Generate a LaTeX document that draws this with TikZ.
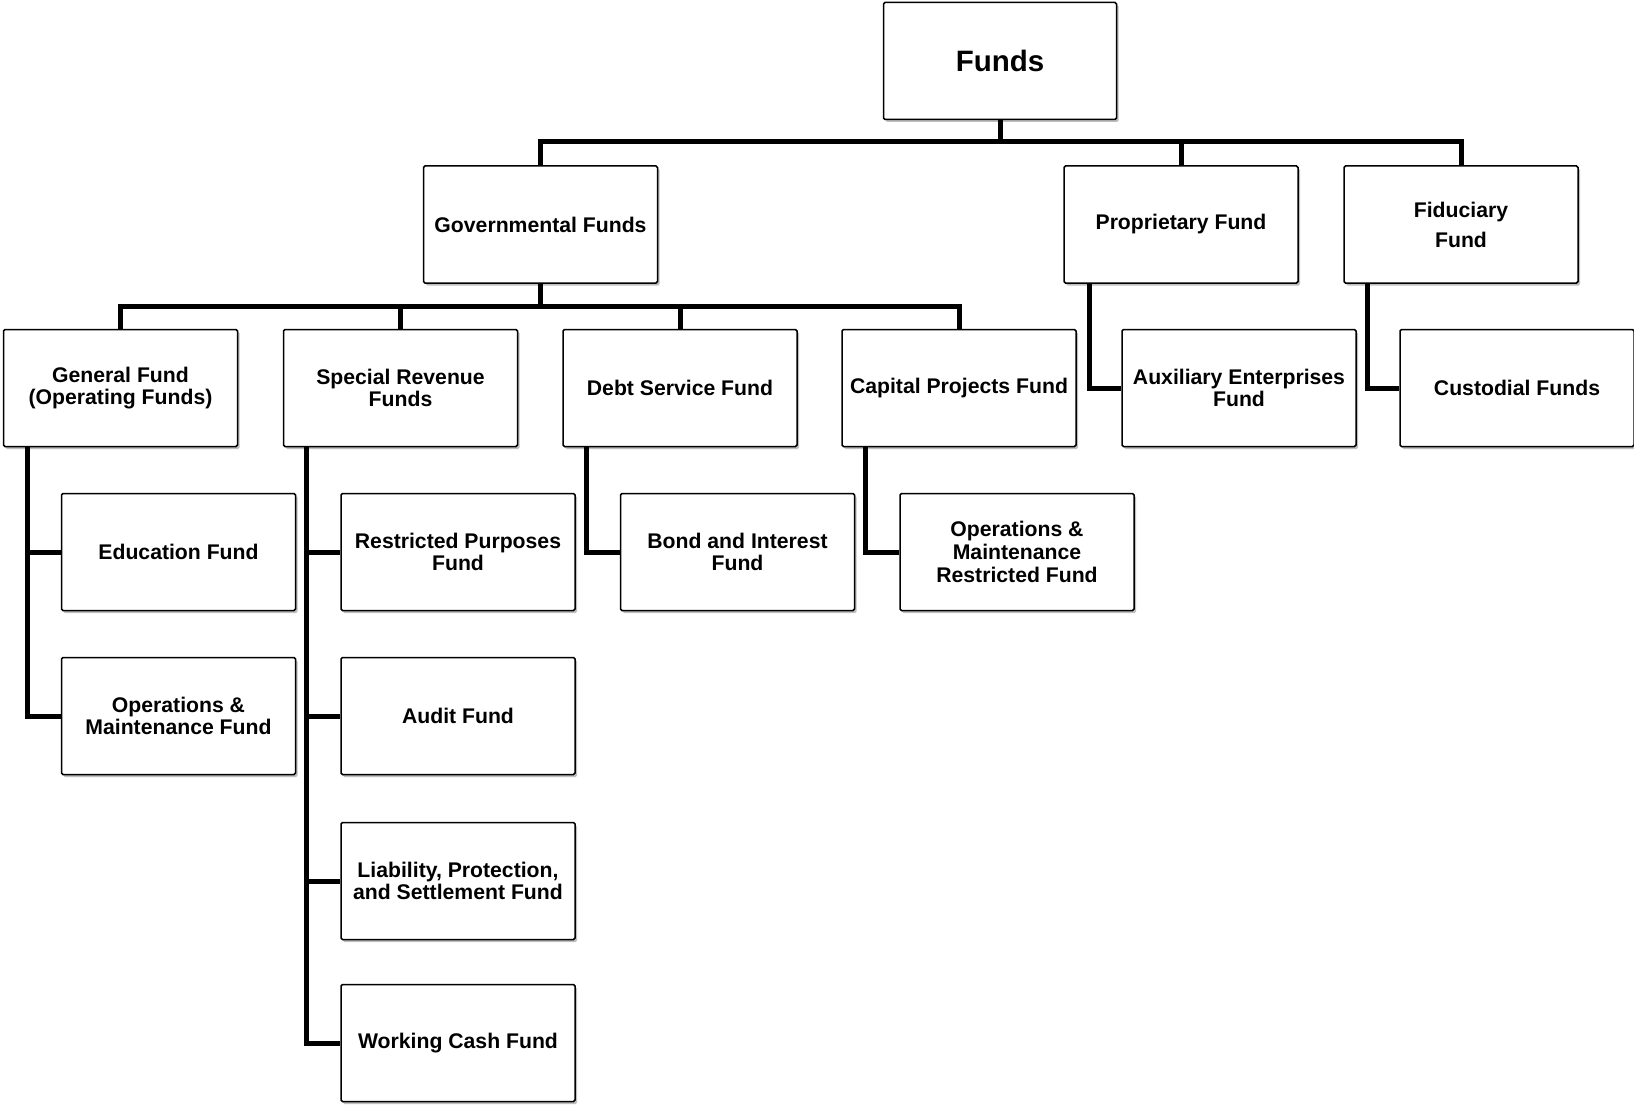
\documentclass[tikz,border=0pt]{standalone}
\usepackage{fontspec}
\setmainfont{Liberation Sans}
\usetikzlibrary{shadows}
\begin{document}
\begin{tikzpicture}[x=1pt,y=-1pt,
  box/.style={draw, line width=1.5pt, fill=white, rounded corners=1.5pt,
    minimum width=234pt, minimum height=117pt, inner sep=0pt, align=center,
    font=\bfseries\fontsize{21.2}{22.6}\selectfont,
    drop shadow={shadow xshift=2pt, shadow yshift=-2.5pt, fill=black, opacity=0.25}},
  conn/.style={line width=5pt, line join=miter}]
\useasboundingbox (0,0) rectangle (1634,1105);

% level 0
\node[box, minimum width=233pt, minimum height=117pt, font=\bfseries\fontsize{29.5}{34}\selectfont] (funds) at (1000,61) {Funds};
% level 1
\node[box] (gov) at (540.5,224.5) {Governmental Funds};
\node[box] (prop) at (1181,224.5) {Proprietary Fund};
\node[box, font=\bfseries\fontsize{21.2}{30}\selectfont] (fid) at (1461,224.5) {Fiduciary\\Fund};
% level 2
\node[box] (gen) at (120.5,388) {General Fund\\(Operating Funds)};
\node[box] (spec) at (400.5,388) {Special Revenue\\Funds};
\node[box] (debt) at (680,388) {Debt Service Fund};
\node[box] (cap) at (959,388) {Capital Projects Fund};
\node[box] (aux) at (1239,388) {Auxiliary Enterprises\\Fund};
\node[box] (cust) at (1517,388) {Custodial Funds};
% level 3
\node[box] (edu) at (178.5,552) {Education Fund};
\node[box] (restr) at (458,552) {Restricted Purposes\\Fund};
\node[box] (bond) at (737.5,552) {Bond and Interest\\Fund};
\node[box] (omr) at (1017,552) {Operations \&\\Maintenance\\Restricted Fund};
% level 4
\node[box] (om) at (178.5,716) {Operations \&\\Maintenance Fund};
\node[box] (audit) at (458,716) {Audit Fund};
% level 5
\node[box] (liab) at (458,881) {Liability, Protection,\\and Settlement Fund};
% level 6
\node[box] (work) at (458,1043) {Working Cash Fund};

% top bus
\coordinate (bus1) at (0,142);
\coordinate (bus2) at (0,306);
\draw[conn] (funds.south) -- (funds.south |- bus1);
\draw[conn] (gov.north) -- (gov.north |- bus1) -| (fid.north);
\draw[conn] (prop.north) -- (prop.north |- bus1);
% level 2 bus
\draw[conn] (gov.south) -- (gov.south |- bus2);
\draw[conn] (gen.north) -- (gen.north |- bus2) -| (cap.north);
\draw[conn] (spec.north) -- (spec.north |- bus2);
\draw[conn] (debt.north) -- (debt.north |- bus2);
% trunks
\coordinate (gT) at ([xshift=25pt]gen.south west);
\draw[conn] (gT) |- (om.west);
\draw[conn] (gT |- edu.west) -- (edu.west);
\coordinate (sT) at ([xshift=24pt]spec.south west);
\draw[conn] (sT) |- (work.west);
\draw[conn] (sT |- restr.west) -- (restr.west);
\draw[conn] (sT |- audit.west) -- (audit.west);
\draw[conn] (sT |- liab.west) -- (liab.west);
\coordinate (dT) at ([xshift=24pt]debt.south west);
\draw[conn] (dT) |- (bond.west);
\coordinate (cT) at ([xshift=24pt]cap.south west);
\draw[conn] (cT) |- (omr.west);
\coordinate (pT) at ([xshift=26pt]prop.south west);
\draw[conn] (pT) |- (aux.west);
\coordinate (fT) at ([xshift=24pt]fid.south west);
\draw[conn] (fT) |- (cust.west);
\end{tikzpicture}
\end{document}
